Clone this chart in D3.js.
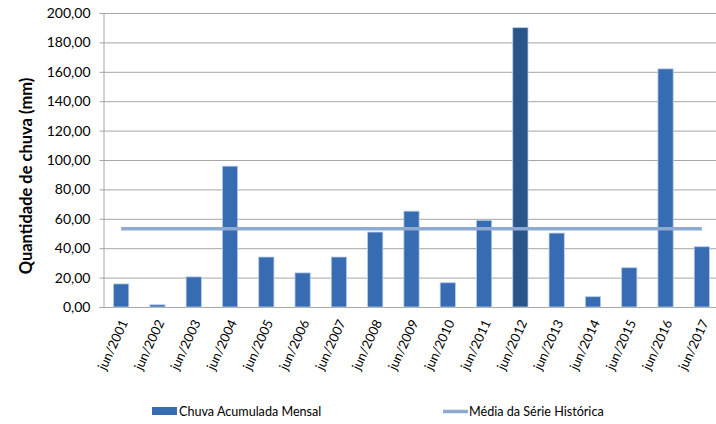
<!DOCTYPE html>
<html><head><meta charset="utf-8">
<script src="https://cdn.jsdelivr.net/npm/d3@7"></script>
<style>body{margin:0;background:#fff}svg{display:block;font-family:Lato,"Open Sans",sans-serif}</style>
</head><body><svg id="c" width="716" height="424"></svg>
<script>
const categories = ["jun/2001","jun/2002","jun/2003","jun/2004","jun/2005","jun/2006","jun/2007","jun/2008","jun/2009","jun/2010","jun/2011","jun/2012","jun/2013","jun/2014","jun/2015","jun/2016","jun/2017"];
const rainfall = [15.7,1.5,20.5,95.8,34.0,23.2,34.0,51.0,65.2,16.5,59.0,190.0,50.3,7.0,26.7,162.0,41.0];
const historicalMean = 53.2;
const yTicks = [0,20,40,60,80,100,120,140,160,180,200];
const seriesNames = ["Chuva Acumulada Mensal","Média da Série Histórica"];
const yTitle = "Quantidade de chuva (mm)";

const svg = d3.select("#c");
const m = {l:103, r:716+4, t:13, b:307};
const x = d3.scaleBand().domain(categories).range([m.l, m.r]).paddingInner(0.58).paddingOuter(0.29);
const y = d3.scaleLinear().domain([0,200]).range([m.b, m.t]);
const fmt = v => d3.format(".2f")(v).replace(".", ",");

// gridlines
svg.append("g").selectAll("line").data(yTicks.slice(1)).join("line")
  .attr("x1", m.l).attr("x2", 716).attr("y1", d=>y(d)+0.5).attr("y2", d=>y(d)+0.5)
  .attr("stroke", "#a6a6a6").attr("stroke-width", 1);

// y axis
const ya = svg.append("g").attr("transform", `translate(${m.l+0.5},0)`)
  .call(d3.axisLeft(y).tickValues(yTicks).tickFormat(fmt).tickSize(4).tickPadding(9));
ya.select(".domain").attr("stroke", "#a6a6a6");
ya.selectAll(".tick line").attr("stroke", "#a6a6a6");
ya.selectAll("text").attr("font-size", 14).attr("fill", "#000").attr("font-family", "Lato, sans-serif");

// x axis
const xa = svg.append("g").attr("transform", `translate(0,${m.b+0.5})`)
  .call(d3.axisBottom(x).tickSize(0).tickPadding(0));
xa.select(".domain").attr("stroke", "#a6a6a6").attr("d", `M${m.l},0H716`);
xa.selectAll("text").attr("font-size", 13).attr("fill", "#000").attr("font-family", "Lato, sans-serif")
  .attr("text-anchor", "end").attr("dy", "0.35em")
  .attr("transform", "translate(3,13) rotate(-65)");

// bars
svg.append("g").selectAll("rect").data(rainfall).join("rect")
  .attr("x", (d,i)=>x(categories[i])).attr("width", x.bandwidth())
  .attr("y", d=>y(d)).attr("height", d=>y(0)-y(d))
  .attr("fill", (d,i)=> i===11 ? "#2a5589" : "#376cb2")
  .attr("stroke", "#b9cde6").attr("stroke-width", 0.8);

// mean line
const line = d3.line().x(d=>x(d)+x.bandwidth()/2).y(()=>y(historicalMean));
svg.append("path").datum([categories[0], categories[categories.length-1]])
  .attr("d", line).attr("stroke", "#8eaad3").attr("stroke-width", 3.5).attr("fill", "none");

// y title
svg.append("text").attr("transform", "translate(32,176) rotate(-90)")
  .attr("text-anchor", "middle").attr("font-size", 16.5).attr("font-weight", "bold").text(yTitle);

// legend
const lg = svg.append("g").attr("font-size", 12.6).attr("fill", "#000");
lg.append("rect").attr("x", 152).attr("y", 407).attr("width", 25).attr("height", 8).attr("fill", "#376cb2");
lg.append("text").attr("x", 179).attr("y", 416).text(seriesNames[0]);
lg.append("line").attr("x1", 443).attr("x2", 468).attr("y1", 411.5).attr("y2", 411.5).attr("stroke", "#8eaad3").attr("stroke-width", 3.5);
lg.append("text").attr("x", 469).attr("y", 416).text(seriesNames[1]);
</script></body></html>
